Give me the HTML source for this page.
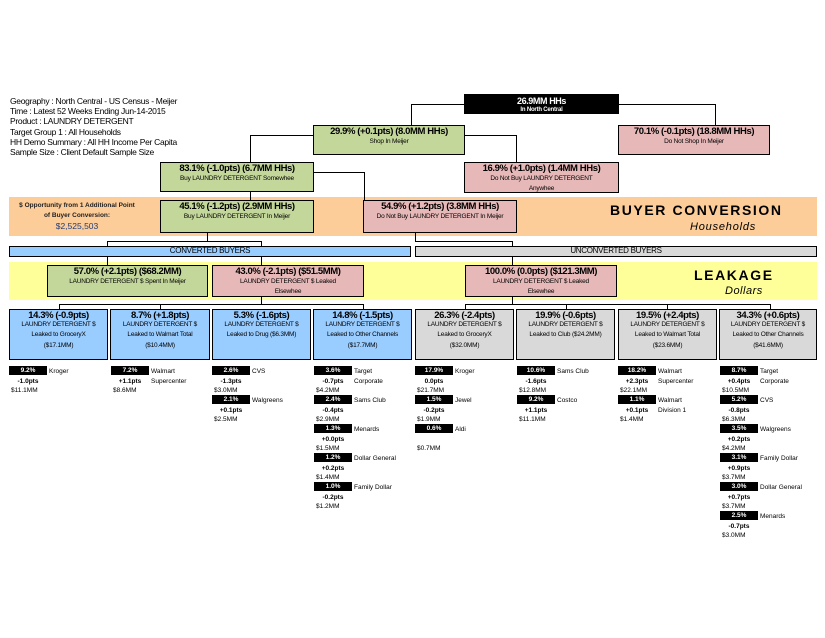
<!DOCTYPE html>
<html><head><meta charset="utf-8"><style>
*{margin:0;padding:0;box-sizing:border-box}
body{width:825px;height:638px;background:#fff;position:relative;font-family:"Liberation Sans",Arial,sans-serif;color:#000;overflow:hidden}
.a{position:absolute}
.b{position:absolute;border:1.5px solid #000;text-align:center;line-height:1}
.g{background:#c4d79b}.p{background:#e6b8b8}.bl{background:#99ccff}.gr{background:#d9d9d9}
.h{font-size:9.5px;display:block;margin-top:1px;font-weight:bold;letter-spacing:-0.4px}
.s{font-size:6.5px;display:block;margin-top:2px;letter-spacing:-0.2px}
.s2{font-size:6.5px;display:block;margin-top:4px;letter-spacing:-0.2px}
.l{position:absolute;background:#000}
.tg{position:absolute;width:110px;height:28px;font-size:6.5px;line-height:1}
.tg .k{position:absolute;left:0;top:0;width:38px;height:9px;background:#000;color:#fff;text-align:center;font-weight:bold;line-height:9px}
.tg .n{position:absolute;left:40px;top:1px;line-height:10px}
.tg .pt{position:absolute;left:0;width:38px;top:13px;text-align:center;font-weight:bold}
.tg .d{position:absolute;left:2px;top:22px}
</style></head><body>
<div class="a" style="left:10px;top:96px;font-size:8.5px;line-height:10.2px;letter-spacing:-0.3px">Geography : North Central - US Census - Meijer<br>Time : Latest 52 Weeks Ending Jun-14-2015<br>Product : LAUNDRY DETERGENT<br>Target Group 1 : All Households<br>HH Demo Summary : All HH Income Per Capita<br>Sample Size : Client Default Sample Size</div>

<div class="a" style="left:9px;top:197px;width:808px;height:39px;background:#fccc99"></div>
<div class="a" style="left:9px;top:262px;width:808px;height:38px;background:#ffff99"></div>
<div class="a" style="left:12px;top:201px;width:130px;text-align:center;font-size:6.5px;font-weight:bold;line-height:10px;color:#222">$ Opportunity from 1 Additional Point<br>of Buyer Conversion:</div>
<div class="a" style="left:12px;top:221px;width:130px;text-align:center;font-size:8.5px;color:#1f3d7a">$2,525,503</div>
<div class="a" style="left:610px;top:202px;font-size:14px;font-weight:bold;letter-spacing:1.6px">BUYER CONVERSION</div>
<div class="a" style="left:690px;top:221px;font-size:11px;font-style:italic;letter-spacing:0.8px">Households</div>
<div class="a" style="left:694px;top:267px;font-size:14px;font-weight:bold;letter-spacing:1.6px">LEAKAGE</div>
<div class="a" style="left:725px;top:285px;font-size:11px;font-style:italic;letter-spacing:0.5px">Dollars</div>

<div class="l" style="left:411px;top:104px;width:54px;height:1px"></div>
<div class="l" style="left:411px;top:104px;width:1px;height:21px"></div>
<div class="l" style="left:619px;top:104px;width:97px;height:1px"></div>
<div class="l" style="left:715px;top:104px;width:1px;height:21px"></div>
<div class="l" style="left:250px;top:135px;width:64px;height:1px"></div>
<div class="l" style="left:250px;top:135px;width:1px;height:27px"></div>
<div class="l" style="left:465px;top:135px;width:52px;height:1px"></div>
<div class="l" style="left:516px;top:135px;width:1px;height:27px"></div>
<div class="l" style="left:250px;top:192px;width:1px;height:8px"></div>
<div class="l" style="left:313px;top:172px;width:51px;height:1px"></div>
<div class="l" style="left:364px;top:172px;width:1px;height:28px"></div>
<div class="l" style="left:207px;top:233px;width:1px;height:8px"></div>
<div class="l" style="left:107px;top:241px;width:155px;height:1px"></div>
<div class="l" style="left:107px;top:241px;width:1px;height:5px"></div>
<div class="l" style="left:261px;top:241px;width:1px;height:5px"></div>
<div class="l" style="left:415px;top:233px;width:1px;height:8px"></div>
<div class="l" style="left:415px;top:241px;width:98px;height:1px"></div>
<div class="l" style="left:512px;top:241px;width:1px;height:5px"></div>
<div class="l" style="left:107px;top:256px;width:1px;height:9px"></div>
<div class="l" style="left:261px;top:256px;width:1px;height:9px"></div>
<div class="l" style="left:512px;top:256px;width:1px;height:9px"></div>
<div class="l" style="left:261px;top:297px;width:1px;height:7px"></div>
<div class="l" style="left:59px;top:304px;width:305px;height:1px"></div>
<div class="l" style="left:59px;top:304px;width:1px;height:5px"></div>
<div class="l" style="left:160px;top:304px;width:1px;height:5px"></div>
<div class="l" style="left:363px;top:304px;width:1px;height:5px"></div>
<div class="l" style="left:512px;top:297px;width:1px;height:7px"></div>
<div class="l" style="left:465px;top:304px;width:306px;height:1px"></div>
<div class="l" style="left:465px;top:304px;width:1px;height:5px"></div>
<div class="l" style="left:566px;top:304px;width:1px;height:5px"></div>
<div class="l" style="left:667px;top:304px;width:1px;height:5px"></div>
<div class="l" style="left:770px;top:304px;width:1px;height:5px"></div>

<div class="b" style="left:464px;top:94px;width:155px;height:20px;background:#000;color:#fff"><span class="h" style="margin-top:2px;font-size:9px">26.9MM HHs</span><span class="s" style="margin-top:1px;font-weight:bold;font-size:6px">In North Central</span></div>
<div class="b g" style="left:313px;top:125px;width:152px;height:30px"><span class="h">29.9% (+0.1pts) (8.0MM HHs)</span><span class="s">Shop In Meijer</span></div>
<div class="b p" style="left:618px;top:125px;width:152px;height:30px"><span class="h">70.1% (-0.1pts) (18.8MM HHs)</span><span class="s">Do Not Shop In Meijer</span></div>
<div class="b g" style="left:160px;top:162px;width:154px;height:30px"><span class="h">83.1% (-1.0pts) (6.7MM HHs)</span><span class="s">Buy LAUNDRY DETERGENT Somewhee</span></div>
<div class="b p" style="left:464px;top:162px;width:155px;height:31px"><span class="h">16.9% (+1.0pts) (1.4MM HHs)</span><span class="s">Do Not Buy LAUNDRY DETERGENT</span><span class="s2">Anywhee</span></div>
<div class="b g" style="left:160px;top:200px;width:154px;height:33px"><span class="h">45.1% (-1.2pts) (2.9MM HHs)</span><span class="s">Buy LAUNDRY DETERGENT In Meijer</span></div>
<div class="b p" style="left:363px;top:200px;width:154px;height:33px"><span class="h">54.9% (+1.2pts) (3.8MM HHs)</span><span class="s">Do Not Buy LAUNDRY DETERGENT In Meijer</span></div>
<div class="b bl" style="left:9px;top:246px;width:402px;height:11px;font-size:8px;line-height:8px;border-width:1px;letter-spacing:-0.3px">CONVERTED BUYERS</div>
<div class="b gr" style="left:415px;top:246px;width:402px;height:11px;font-size:8px;line-height:8px;border-width:1px;letter-spacing:-0.3px">UNCONVERTED BUYERS</div>
<div class="b g" style="left:47px;top:265px;width:161px;height:32px"><span class="h">57.0% (+2.1pts) ($68.2MM)</span><span class="s">LAUNDRY DETERGENT $ Spent In Meijer</span></div>
<div class="b p" style="left:212px;top:265px;width:152px;height:32px"><span class="h">43.0% (-2.1pts) ($51.5MM)</span><span class="s">LAUNDRY DETERGENT $ Leaked</span><span class="s2">Elsewhee</span></div>
<div class="b p" style="left:465px;top:265px;width:152px;height:32px"><span class="h">100.0% (0.0pts) ($121.3MM)</span><span class="s">LAUNDRY DETERGENT $ Leaked</span><span class="s2">Elsewhee</span></div>

<div class="b bl" style="left:9px;top:309px;width:99px;height:51px"><span class="h">14.3% (-0.9pts)</span><span class="s" style="margin-top:1px">LAUNDRY DETERGENT $</span><span class="s2">Leaked to GroceryX</span><span class="s2">($17.1MM)</span></div>
<div class="b bl" style="left:110px;top:309px;width:100px;height:51px"><span class="h">8.7% (+1.8pts)</span><span class="s" style="margin-top:1px">LAUNDRY DETERGENT $</span><span class="s2">Leaked to Walmart Total</span><span class="s2">($10.4MM)</span></div>
<div class="b bl" style="left:212px;top:309px;width:99px;height:51px"><span class="h">5.3% (-1.6pts)</span><span class="s" style="margin-top:1px">LAUNDRY DETERGENT $</span><span class="s2">Leaked to Drug ($6.3MM)</span></div>
<div class="b bl" style="left:313px;top:309px;width:99px;height:51px"><span class="h">14.8% (-1.5pts)</span><span class="s" style="margin-top:1px">LAUNDRY DETERGENT $</span><span class="s2">Leaked to Other Channels</span><span class="s2">($17.7MM)</span></div>
<div class="b gr" style="left:415px;top:309px;width:99px;height:51px"><span class="h">26.3% (-2.4pts)</span><span class="s" style="margin-top:1px">LAUNDRY DETERGENT $</span><span class="s2">Leaked to GroceryX</span><span class="s2">($32.0MM)</span></div>
<div class="b gr" style="left:516px;top:309px;width:99px;height:51px"><span class="h">19.9% (-0.6pts)</span><span class="s" style="margin-top:1px">LAUNDRY DETERGENT $</span><span class="s2">Leaked to Club ($24.2MM)</span></div>
<div class="b gr" style="left:618px;top:309px;width:99px;height:51px"><span class="h">19.5% (+2.4pts)</span><span class="s" style="margin-top:1px">LAUNDRY DETERGENT $</span><span class="s2">Leaked to Walmart Total</span><span class="s2">($23.6MM)</span></div>
<div class="b gr" style="left:719px;top:309px;width:98px;height:51px"><span class="h">34.3% (+0.6pts)</span><span class="s" style="margin-top:1px">LAUNDRY DETERGENT $</span><span class="s2">Leaked to Other Channels</span><span class="s2">($41.6MM)</span></div>

<div class="tg" style="left:9px;top:366px"><div class="k">9.2%</div><div class="n">Kroger</div><div class="pt">-1.0pts</div><div class="d">$11.1MM</div></div>
<div class="tg" style="left:111px;top:366px"><div class="k">7.2%</div><div class="n">Walmart<br>Supercenter</div><div class="pt">+1.1pts</div><div class="d">$8.6MM</div></div>
<div class="tg" style="left:212px;top:366px"><div class="k">2.6%</div><div class="n">CVS</div><div class="pt">-1.3pts</div><div class="d">$3.0MM</div></div>
<div class="tg" style="left:212px;top:395px"><div class="k">2.1%</div><div class="n">Walgreens</div><div class="pt">+0.1pts</div><div class="d">$2.5MM</div></div>
<div class="tg" style="left:314px;top:366px"><div class="k">3.6%</div><div class="n">Target<br>Corporate</div><div class="pt">-0.7pts</div><div class="d">$4.2MM</div></div>
<div class="tg" style="left:314px;top:395px"><div class="k">2.4%</div><div class="n">Sams Club</div><div class="pt">-0.4pts</div><div class="d">$2.9MM</div></div>
<div class="tg" style="left:314px;top:424px"><div class="k">1.3%</div><div class="n">Menards</div><div class="pt">+0.0pts</div><div class="d">$1.5MM</div></div>
<div class="tg" style="left:314px;top:453px"><div class="k">1.2%</div><div class="n">Dollar General</div><div class="pt">+0.2pts</div><div class="d">$1.4MM</div></div>
<div class="tg" style="left:314px;top:482px"><div class="k">1.0%</div><div class="n">Family Dollar</div><div class="pt">-0.2pts</div><div class="d">$1.2MM</div></div>
<div class="tg" style="left:415px;top:366px"><div class="k">17.9%</div><div class="n">Kroger</div><div class="pt">0.0pts</div><div class="d">$21.7MM</div></div>
<div class="tg" style="left:415px;top:395px"><div class="k">1.5%</div><div class="n">Jewel</div><div class="pt">-0.2pts</div><div class="d">$1.9MM</div></div>
<div class="tg" style="left:415px;top:424px"><div class="k">0.6%</div><div class="n">Aldi</div><div class="d">$0.7MM</div></div>
<div class="tg" style="left:517px;top:366px"><div class="k">10.6%</div><div class="n">Sams Club</div><div class="pt">-1.6pts</div><div class="d">$12.8MM</div></div>
<div class="tg" style="left:517px;top:395px"><div class="k">9.2%</div><div class="n">Costco</div><div class="pt">+1.1pts</div><div class="d">$11.1MM</div></div>
<div class="tg" style="left:618px;top:366px"><div class="k">18.2%</div><div class="n">Walmart<br>Supercenter</div><div class="pt">+2.3pts</div><div class="d">$22.1MM</div></div>
<div class="tg" style="left:618px;top:395px"><div class="k">1.1%</div><div class="n">Walmart<br>Division 1</div><div class="pt">+0.1pts</div><div class="d">$1.4MM</div></div>
<div class="tg" style="left:720px;top:366px"><div class="k">8.7%</div><div class="n">Target<br>Corporate</div><div class="pt">+0.4pts</div><div class="d">$10.5MM</div></div>
<div class="tg" style="left:720px;top:395px"><div class="k">5.2%</div><div class="n">CVS</div><div class="pt">-0.8pts</div><div class="d">$6.3MM</div></div>
<div class="tg" style="left:720px;top:424px"><div class="k">3.5%</div><div class="n">Walgreens</div><div class="pt">+0.2pts</div><div class="d">$4.2MM</div></div>
<div class="tg" style="left:720px;top:453px"><div class="k">3.1%</div><div class="n">Family Dollar</div><div class="pt">+0.9pts</div><div class="d">$3.7MM</div></div>
<div class="tg" style="left:720px;top:482px"><div class="k">3.0%</div><div class="n">Dollar General</div><div class="pt">+0.7pts</div><div class="d">$3.7MM</div></div>
<div class="tg" style="left:720px;top:511px"><div class="k">2.5%</div><div class="n">Menards</div><div class="pt">-0.7pts</div><div class="d">$3.0MM</div></div>
</body></html>
